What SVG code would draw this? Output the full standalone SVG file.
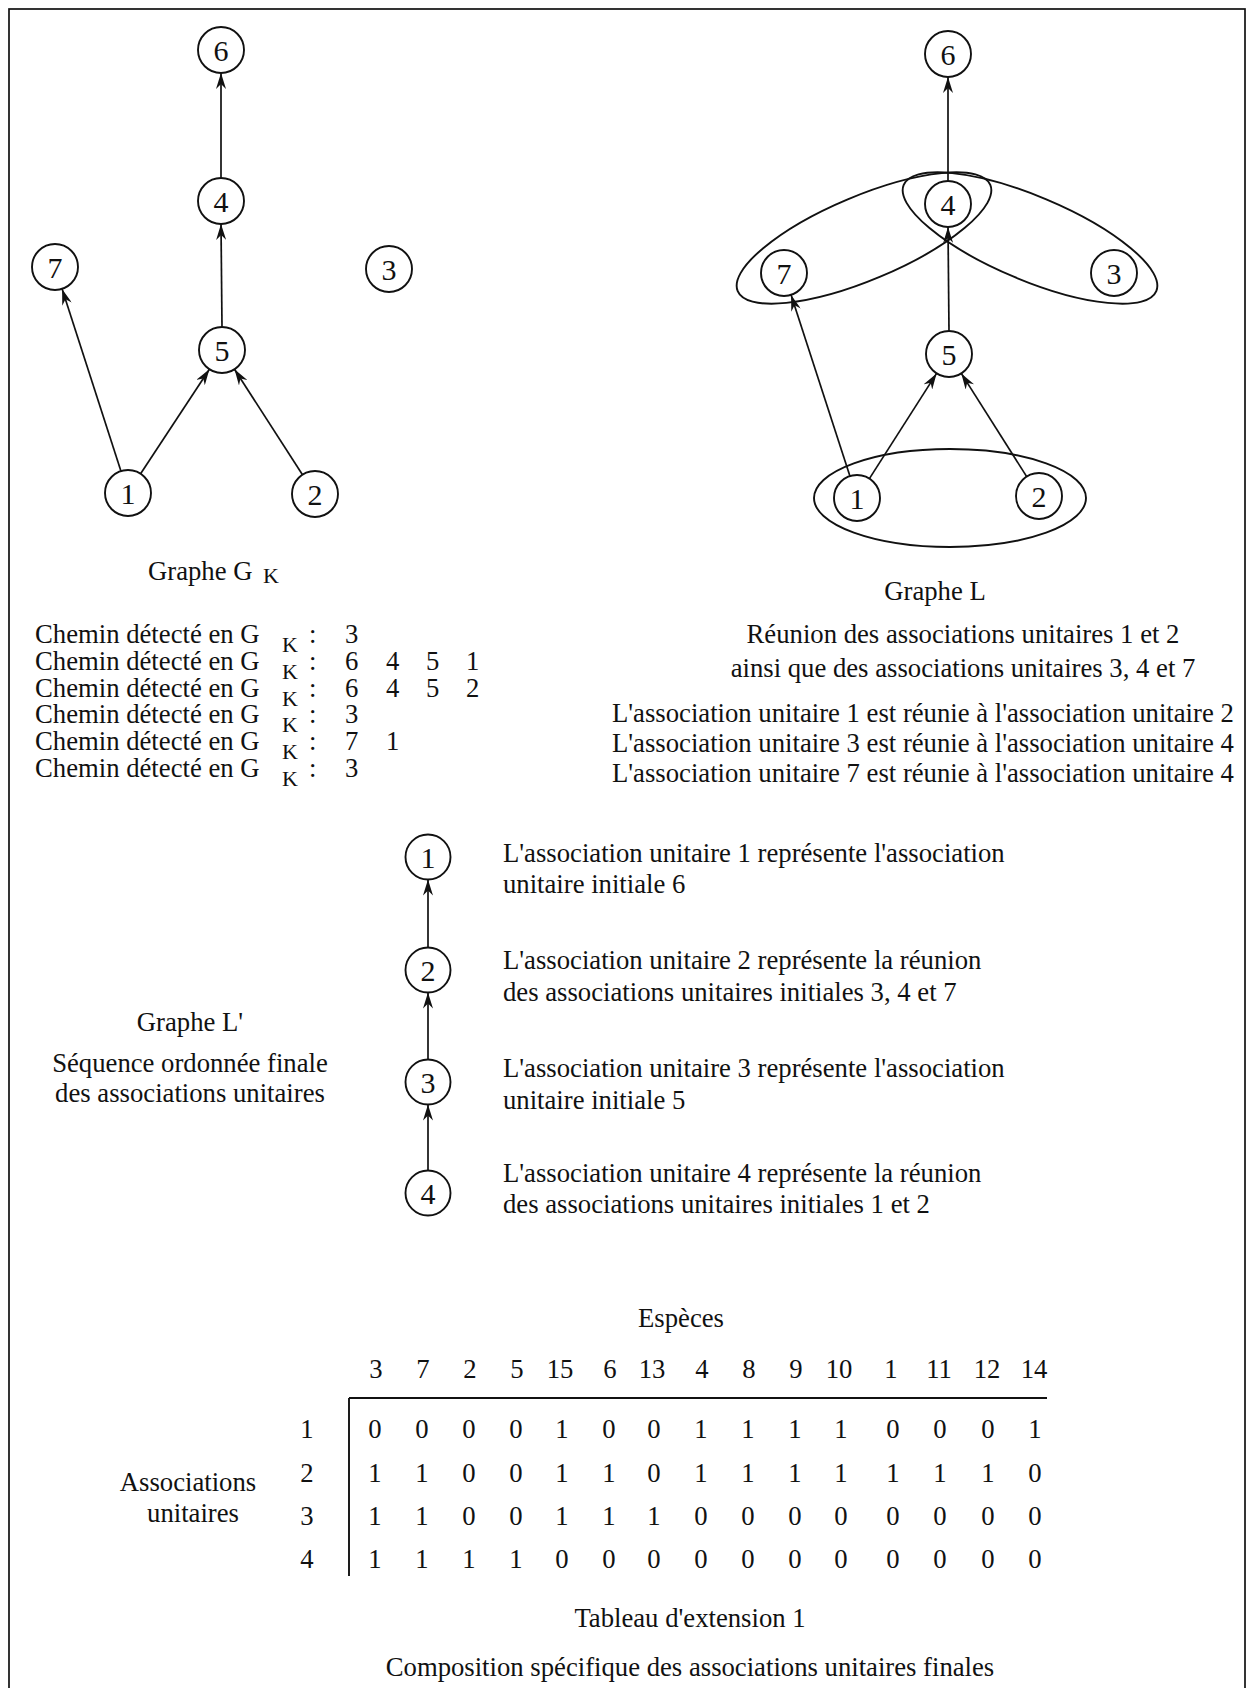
<svg xmlns="http://www.w3.org/2000/svg" width="1253" height="1688" viewBox="0 0 1253 1688">
<style>
text{font-family:"Liberation Serif","Times New Roman",serif;font-size:26.7px;fill:#111}
.n circle{fill:#fff;stroke:#111;stroke-width:1.9}
.n text{font-size:30px;text-anchor:middle}
.c line{stroke:#111;stroke-width:1.7;marker-end:url(#arr)}
.e{fill:none;stroke:#111;stroke-width:1.9}
.m{text-anchor:middle}
.sub{font-size:22px}
.tl{stroke:#111;stroke-width:1.9}
</style>
<defs>
<marker id="arr" viewBox="0 0 16 10" refX="16" refY="5" markerWidth="16" markerHeight="10" markerUnits="userSpaceOnUse" orient="auto">
<path d="M0,0 L16,5 L0,10 L5,5 Z" fill="#111"/>
</marker>
</defs>
<rect x="9" y="9" width="1236" height="1700" fill="#fff" stroke="#111" stroke-width="1.7"/>

<!-- Graph L ellipses -->
<g id="l-clusters">
<ellipse class="e" cx="950" cy="498" rx="136" ry="49"/>
<ellipse class="e" cx="864" cy="238" rx="137" ry="42" transform="rotate(-22.8 864 238)"/>
<ellipse class="e" cx="1030" cy="238" rx="137" ry="42" transform="rotate(22.8 1030 238)"/>
</g>

<g id="connectors" class="c">
<!-- Graphe G K -->
<line x1="221" y1="178" x2="221" y2="73"/>
<line x1="222" y1="327" x2="221" y2="224"/>
<line x1="120.9" y1="471.1" x2="62.1" y2="288.9"/>
<line x1="140.6" y1="473.8" x2="209.4" y2="369.2"/>
<line x1="302.5" y1="474.7" x2="234.5" y2="369.3"/>
<!-- Graphe L -->
<line x1="948" y1="181" x2="948" y2="77"/>
<line x1="949" y1="331" x2="948" y2="227"/>
<line x1="849.9" y1="476.1" x2="791.1" y2="294.9"/>
<line x1="869.4" y1="478.6" x2="936.6" y2="373.4"/>
<line x1="1026.7" y1="476.6" x2="961.3" y2="373.4"/>
<!-- Graphe L' -->
<line x1="428" y1="947.5" x2="428" y2="879.5"/>
<line x1="428" y1="1059.5" x2="428" y2="992.5"/>
<line x1="428" y1="1170.5" x2="428" y2="1104.5"/>
</g>

<!-- Graphe G K nodes -->
<g id="gk-n6" class="n"><circle cx="221" cy="50" r="23"/><text x="221" y="60.5">6</text></g>
<g id="gk-n4" class="n"><circle cx="221" cy="201" r="23"/><text x="221" y="211.5">4</text></g>
<g id="gk-n7" class="n"><circle cx="55" cy="267" r="23"/><text x="55" y="277.5">7</text></g>
<g id="gk-n3" class="n"><circle cx="389" cy="269" r="23"/><text x="389" y="279.5">3</text></g>
<g id="gk-n5" class="n"><circle cx="222" cy="350" r="23"/><text x="222" y="360.5">5</text></g>
<g id="gk-n1" class="n"><circle cx="128" cy="493" r="23"/><text x="128" y="503.5">1</text></g>
<g id="gk-n2" class="n"><circle cx="315" cy="494" r="23"/><text x="315" y="504.5">2</text></g>

<!-- Graphe L nodes -->
<g id="l-n6" class="n"><circle cx="948" cy="54" r="23"/><text x="948" y="64.5">6</text></g>
<g id="l-n4" class="n"><circle cx="948" cy="204" r="23"/><text x="948" y="214.5">4</text></g>
<g id="l-n7" class="n"><circle cx="784" cy="273" r="23"/><text x="784" y="283.5">7</text></g>
<g id="l-n3" class="n"><circle cx="1114" cy="273" r="23"/><text x="1114" y="283.5">3</text></g>
<g id="l-n5" class="n"><circle cx="949" cy="354" r="23"/><text x="949" y="364.5">5</text></g>
<g id="l-n1" class="n"><circle cx="857" cy="498" r="23"/><text x="857" y="508.5">1</text></g>
<g id="l-n2" class="n"><circle cx="1039" cy="496" r="23"/><text x="1039" y="506.5">2</text></g>

<!-- Graphe L' nodes -->
<g id="lp-n1" class="n"><circle cx="428" cy="857" r="22.5"/><text x="428" y="867.5">1</text></g>
<g id="lp-n2" class="n"><circle cx="428" cy="970" r="22.5"/><text x="428" y="980.5">2</text></g>
<g id="lp-n3" class="n"><circle cx="428" cy="1082" r="22.5"/><text x="428" y="1092.5">3</text></g>
<g id="lp-n4" class="n"><circle cx="428" cy="1193" r="22.5"/><text x="428" y="1203.5">4</text></g>

<!-- Graphe G K texts -->
<g id="gk-caption">
<text x="148" y="580">Graphe G<tspan x="263" y="583" class="sub">K</tspan></text>
</g>
<g id="gk-paths">
<text><tspan x="35" y="643">Chemin détecté en G</tspan><tspan x="282" y="651.5" class="sub">K</tspan><tspan x="309" y="643">:</tspan><tspan x="345" y="643">3</tspan><tspan x="35" y="670">Chemin détecté en G</tspan><tspan x="282" y="678.5" class="sub">K</tspan><tspan x="309" y="670">:</tspan><tspan x="345" y="670">6</tspan><tspan x="386" y="670">4</tspan><tspan x="426" y="670">5</tspan><tspan x="466" y="670">1</tspan><tspan x="35" y="697">Chemin détecté en G</tspan><tspan x="282" y="705.5" class="sub">K</tspan><tspan x="309" y="697">:</tspan><tspan x="345" y="697">6</tspan><tspan x="386" y="697">4</tspan><tspan x="426" y="697">5</tspan><tspan x="466" y="697">2</tspan><tspan x="35" y="723">Chemin détecté en G</tspan><tspan x="282" y="731.5" class="sub">K</tspan><tspan x="309" y="723">:</tspan><tspan x="345" y="723">3</tspan><tspan x="35" y="750">Chemin détecté en G</tspan><tspan x="282" y="758.5" class="sub">K</tspan><tspan x="309" y="750">:</tspan><tspan x="345" y="750">7</tspan><tspan x="386" y="750">1</tspan><tspan x="35" y="777">Chemin détecté en G</tspan><tspan x="282" y="785.5" class="sub">K</tspan><tspan x="309" y="777">:</tspan><tspan x="345" y="777">3</tspan></text>
</g>

<!-- Graphe L texts -->
<g id="l-caption">
<text x="935" y="600" class="m">Graphe L</text>
<text x="963" y="643" class="m">Réunion des associations unitaires 1 et 2</text>
<text x="963" y="677" class="m">ainsi que des associations unitaires 3, 4 et 7</text>
<text x="612" y="722">L'association unitaire 1 est réunie à l'association unitaire 2</text>
<text x="612" y="752">L'association unitaire 3 est réunie à l'association unitaire 4</text>
<text x="612" y="782">L'association unitaire 7 est réunie à l'association unitaire 4</text>
</g>

<!-- Graphe L' texts -->
<g id="lp-caption">
<text x="190" y="1031" class="m">Graphe L'</text>
<text x="190" y="1072" class="m">Séquence ordonnée finale</text>
<text x="190" y="1102" class="m">des associations unitaires</text>
</g>
<g id="lp-notes">
<text x="503" y="862">L'association unitaire 1 représente l'association</text>
<text x="503" y="893">unitaire initiale 6</text>
<text x="503" y="969">L'association unitaire 2 représente la réunion</text>
<text x="503" y="1001">des associations unitaires initiales 3, 4 et 7</text>
<text x="503" y="1077">L'association unitaire 3 représente l'association</text>
<text x="503" y="1109">unitaire initiale 5</text>
<text x="503" y="1182">L'association unitaire 4 représente la réunion</text>
<text x="503" y="1213">des associations unitaires initiales 1 et 2</text>
</g>

<!-- Tableau d'extension -->
<g id="table">
<text x="681" y="1327" class="m">Espèces</text>
<g class="m">
<text x="376" y="1378" class="m">3</text><text x="423" y="1378" class="m">7</text><text x="470" y="1378" class="m">2</text><text x="517" y="1378" class="m">5</text><text x="560" y="1378" class="m">15</text><text x="610" y="1378" class="m">6</text><text x="652" y="1378" class="m">13</text><text x="702" y="1378" class="m">4</text><text x="749" y="1378" class="m">8</text><text x="796" y="1378" class="m">9</text><text x="839" y="1378" class="m">10</text><text x="891" y="1378" class="m">1</text><text x="939" y="1378" class="m">11</text><text x="987" y="1378" class="m">12</text><text x="1034" y="1378" class="m">14</text>
</g>
<line class="tl" x1="349" y1="1398" x2="1047" y2="1398"/>
<line class="tl" x1="349" y1="1398" x2="349" y2="1576"/>
<text x="307" y="1438" class="m">1</text>
<text x="307" y="1482" class="m">2</text>
<text x="307" y="1525" class="m">3</text>
<text x="307" y="1568" class="m">4</text>
<text x="188" y="1491" class="m">Associations</text>
<text x="193" y="1522" class="m">unitaires</text>
<text class="m" y="1438"><tspan x="375">0</tspan><tspan x="422">0</tspan><tspan x="469">0</tspan><tspan x="516">0</tspan><tspan x="562">1</tspan><tspan x="609">0</tspan><tspan x="654">0</tspan><tspan x="701">1</tspan><tspan x="748">1</tspan><tspan x="795">1</tspan><tspan x="841">1</tspan><tspan x="893">0</tspan><tspan x="940">0</tspan><tspan x="988">0</tspan><tspan x="1035">1</tspan></text>
<text class="m" y="1482"><tspan x="375">1</tspan><tspan x="422">1</tspan><tspan x="469">0</tspan><tspan x="516">0</tspan><tspan x="562">1</tspan><tspan x="609">1</tspan><tspan x="654">0</tspan><tspan x="701">1</tspan><tspan x="748">1</tspan><tspan x="795">1</tspan><tspan x="841">1</tspan><tspan x="893">1</tspan><tspan x="940">1</tspan><tspan x="988">1</tspan><tspan x="1035">0</tspan></text>
<text class="m" y="1525"><tspan x="375">1</tspan><tspan x="422">1</tspan><tspan x="469">0</tspan><tspan x="516">0</tspan><tspan x="562">1</tspan><tspan x="609">1</tspan><tspan x="654">1</tspan><tspan x="701">0</tspan><tspan x="748">0</tspan><tspan x="795">0</tspan><tspan x="841">0</tspan><tspan x="893">0</tspan><tspan x="940">0</tspan><tspan x="988">0</tspan><tspan x="1035">0</tspan></text>
<text class="m" y="1568"><tspan x="375">1</tspan><tspan x="422">1</tspan><tspan x="469">1</tspan><tspan x="516">1</tspan><tspan x="562">0</tspan><tspan x="609">0</tspan><tspan x="654">0</tspan><tspan x="701">0</tspan><tspan x="748">0</tspan><tspan x="795">0</tspan><tspan x="841">0</tspan><tspan x="893">0</tspan><tspan x="940">0</tspan><tspan x="988">0</tspan><tspan x="1035">0</tspan></text>
<text x="690" y="1627" class="m">Tableau d'extension 1</text>
<text x="690" y="1676" class="m">Composition spécifique des associations unitaires finales</text>
</g>
</svg>
